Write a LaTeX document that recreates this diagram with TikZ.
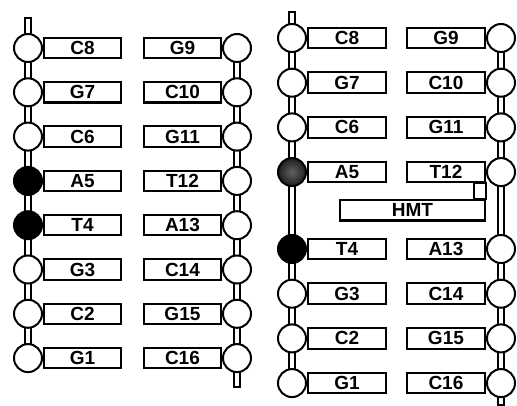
\documentclass[tikz,border=0pt]{standalone}
\usepackage{fontspec}
\setmainfont{Liberation Sans}
\usetikzlibrary{calc,backgrounds}
\begin{document}
\begin{tikzpicture}[x=1pt,y=-1pt,
  base/.style={circle, draw, line width=2pt, fill=white, minimum size=28pt, inner sep=0pt},
  dark/.style={base, fill=black},
  grey/.style={base, inner color=black!62, outer color=black!88},
  lbl/.style={draw, line width=2.1pt, fill=white, minimum width=77pt, minimum height=20.5pt, inner sep=0pt, font=\bfseries\fontsize{19}{19}\selectfont},
  bb/.style={draw, line width=1.4pt, fill=white}]
\useasboundingbox (0,0) rectangle (517,406);
% ---------------- left panel ----------------
\foreach \lab/\st [count=\i] in {C8/base,G7/base,C6/base,A5/dark,T4/dark,G3/base,C2/base,G1/base}{
  \node[\st] (La\i) at (28,{48+44.3*(\i-1)}) {};
  \node[lbl, anchor=west] (Lb\i) at (La\i.east) {\lab};
}
\foreach \lab [count=\i] in {G9,C10,G11,T12,A13,C14,G15,C16}{
  \node[base] (Ra\i) at (237,{48+44.3*(\i-1)}) {};
  \node[lbl, anchor=east] (Rb\i) at (Ra\i.west) {\lab};
}
\coordinate (Ltop) at (28,18);
\coordinate (Rbot) at (237,387);
% ---------------- right panel ----------------
\foreach \lab/\st/\y [count=\i] in {C8/base/38,G7/base/82.7,C6/base/127.4,A5/grey/172.1,T4/dark/249,G3/base/293.7,C2/base/338.4,G1/base/383.1}{
  \node[\st] (Pa\i) at (292,\y) {};
  \node[lbl, minimum width=78pt, anchor=west] (Pb\i) at (Pa\i.east) {\lab};
}
\foreach \lab/\y [count=\i] in {G9/38,C10/82.7,G11/127.4,T12/172.1,A13/249,C14/293.7,G15/338.4,C16/383.1}{
  \node[base] (Qa\i) at (501,\y) {};
  \node[lbl, minimum width=78pt, anchor=east] (Qb\i) at (Qa\i.west) {\lab};
}
\coordinate (Ptop) at (292,12);
\coordinate (Qbot) at (501,405);
\node[lbl, minimum width=145pt, anchor=north east] (HMT) at (486,199) {HMT};
\draw[line width=2pt] ($(Qb4.south east)+(-12,0)$) rectangle (HMT.north east);
% ---------------- backbones ----------------
\begin{scope}[on background layer]
  \path[bb] ($(Ltop)+(-3,0)$) rectangle ($(La1.center)+(3,0)$);
  \path[bb] ($(Ra8.center)+(-3,0)$) rectangle ($(Rbot)+(3,0)$);
  \path[bb] ($(Ptop)+(-3,0)$) rectangle ($(Pa1.center)+(3,0)$);
  \path[bb] ($(Qa8.center)+(-3,0)$) rectangle ($(Qbot)+(3,0)$);
  \foreach \a/\b in {1/2,2/3,3/4,4/5,5/6,6/7,7/8}{
    \path[bb] ($(La\a.center)+(-3,0)$) rectangle ($(La\b.center)+(3,0)$);
    \path[bb] ($(Ra\a.center)+(-3,0)$) rectangle ($(Ra\b.center)+(3,0)$);
    \path[bb] ($(Pa\a.center)+(-3,0)$) rectangle ($(Pa\b.center)+(3,0)$);
    \path[bb] ($(Qa\a.center)+(-3,0)$) rectangle ($(Qa\b.center)+(3,0)$);
  }
\end{scope}
\end{tikzpicture}
\end{document}
